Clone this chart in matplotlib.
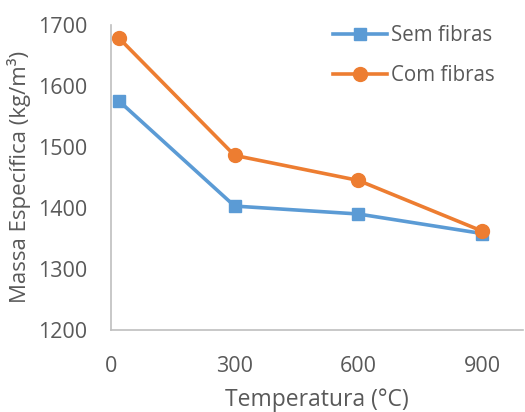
import matplotlib
matplotlib.use("Agg")
import matplotlib.pyplot as plt

plt.rcParams['font.family'] = ['Open Sans', 'DejaVu Sans']

temperatura = [20, 300, 600, 900]
sem_fibras = [1575, 1403, 1390, 1358]
com_fibras = [1678, 1486, 1445, 1362]

xticks = [0, 300, 600, 900]
yticks = [1200, 1300, 1400, 1500, 1600, 1700]

cinza = '#595959'
azul = '#5B9BD5'
laranja = '#ED7D31'

fig = plt.figure(figsize=(5.25, 4.12), dpi=100)
ax = fig.add_axes([0.211, 0.199, 0.786, 0.741])

ax.plot(temperatura, sem_fibras, color=azul, lw=2.6, marker='s', ms=9,
        label='Sem fibras', solid_joinstyle='round')
ax.plot(temperatura, com_fibras, color=laranja, lw=2.6, marker='o', ms=10,
        label='Com fibras', solid_joinstyle='round')

ax.set_xlim(0, 1000)
ax.set_ylim(1200, 1700)
ax.set_xticks(xticks)
ax.set_yticks(yticks)

for s in ['top', 'right']:
    ax.spines[s].set_visible(False)
for s in ['left', 'bottom']:
    ax.spines[s].set_color('#BFBFBF')
    ax.spines[s].set_linewidth(1.2)

ax.tick_params(length=0, labelsize=15.5, labelcolor=cinza)
ax.tick_params(axis='y', pad=17)
ax.tick_params(axis='x', pad=19)
ax.set_xlabel('Temperatura (°C)', fontsize=16.5, color=cinza, labelpad=7.5)
ax.set_ylabel('Massa Específica (kg/m³)', fontsize=16, color=cinza, labelpad=5)

leg = ax.legend(loc='upper right', bbox_to_anchor=(0.975, 1.06), frameon=False,
                fontsize=14.8, labelcolor=cinza, handlelength=2.6,
                handletextpad=0.2, labelspacing=0.95)

fig.savefig('out.png', dpi=100)
